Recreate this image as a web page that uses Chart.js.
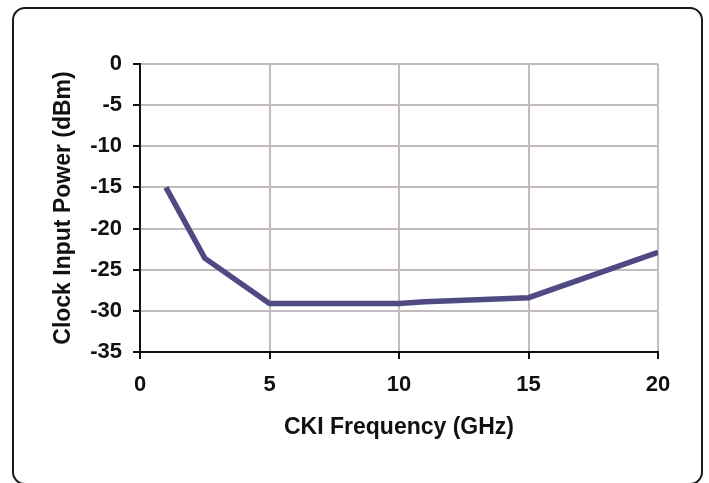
<!DOCTYPE html>
<html>
<head>
<meta charset="utf-8">
<script src="https://cdn.jsdelivr.net/npm/chart.js@4"></script>
<style>
    html, body { margin: 0; padding: 0; background: #fff; }
    #wrap { position: relative; width: 709px; height: 483px; overflow: hidden; }
    #frame {
        position: absolute; left: 12px; top: 7px; width: 691px; height: 478px;
        border: 2.5px solid #1a1a1a; border-radius: 13px; box-sizing: border-box;
    }
    canvas { position: absolute; left: 0; top: 0; }
</style>
</head>
<body>
<div id="wrap">
    <div id="frame"></div>
    <canvas id="chart" width="709" height="483"></canvas>
</div>
<script>
const freqGHz = [1, 2.5, 5, 10, 11, 15, 20];
const powerDbm = [-15, -23.6, -29.1, -29.1, -28.9, -28.4, -22.9];
const xTicks = [0, 5, 10, 15, 20];
const yTicks = [0, -5, -10, -15, -20, -25, -30, -35];

const fontFamily = '"Liberation Sans Narrow", "Liberation Sans", Arial, sans-serif';
const gridColor = '#c4bcbc';
const tickFont = { family: fontFamily, size: 22, weight: 'bold' };
const titleFont = { family: fontFamily, size: 23, weight: 'bold' };

new Chart(document.getElementById('chart'), {
    type: 'line',
    data: {
        datasets: [{
            data: freqGHz.map((x, i) => ({ x, y: powerDbm[i] })),
            borderColor: '#4f4a84',
            borderWidth: 5.5,
            pointRadius: 0,
            tension: 0,
            fill: false,
        }],
    },
    options: {
        responsive: false,
        animation: false,
        layout: { padding: { top: 64, right: 51, left: 0, bottom: 0 } },
        plugins: { legend: { display: false }, tooltip: { enabled: false } },
        scales: {
            x: {
                type: 'linear',
                min: 0,
                max: 20,
                afterBuildTicks: (s) => { s.ticks = xTicks.map((v) => ({ value: v })); },
                afterFit: (s) => { s.height = 131; },
                border: { color: '#111', width: 2 },
                grid: { color: gridColor, lineWidth: 2, tickLength: 7, tickColor: '#111' },
                ticks: { color: '#111', padding: 13, font: tickFont },
                title: {
                    display: true,
                    text: 'CKI Frequency (GHz)',
                    color: '#111',
                    padding: { bottom: 42 },
                    font: titleFont,
                },
            },
            y: {
                min: -35,
                max: 0,
                afterBuildTicks: (s) => { s.ticks = yTicks.map((v) => ({ value: v })); },
                afterFit: (s) => { s.width = 140; },
                border: { color: '#111', width: 2 },
                grid: { color: gridColor, lineWidth: 2, tickLength: 7, tickColor: '#111' },
                ticks: { color: '#111', padding: 11, font: tickFont },
                title: {
                    display: true,
                    text: 'Clock Input Power (dBm)',
                    color: '#111',
                    padding: { top: 50 },
                    font: titleFont,
                },
            },
        },
    },
});
</script>
</body>
</html>
